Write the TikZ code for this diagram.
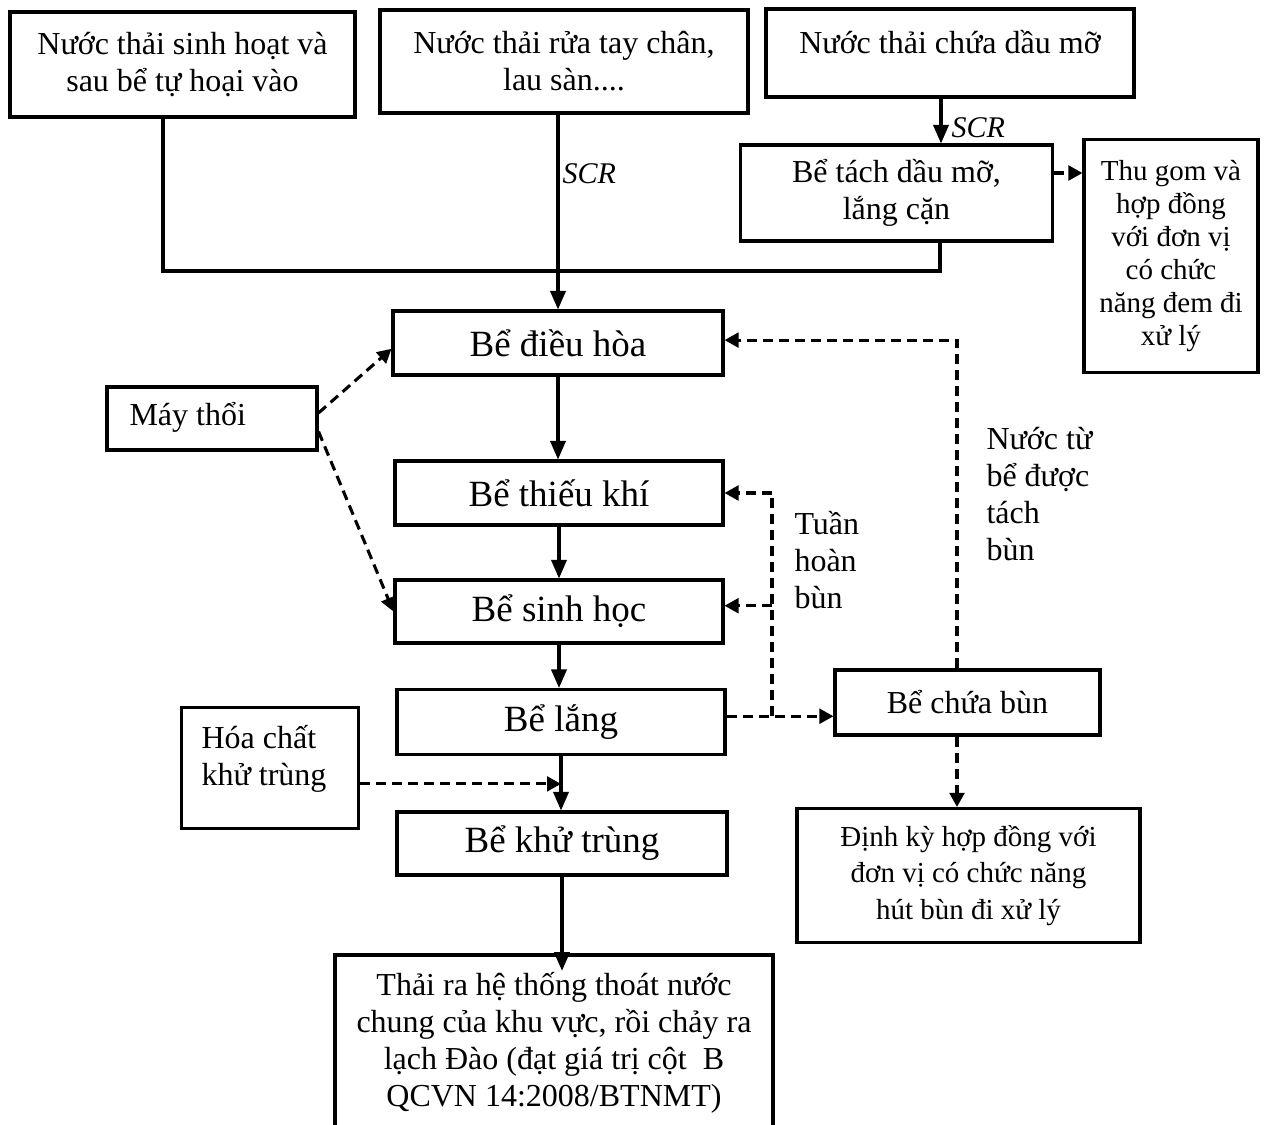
\documentclass[tikz,border=0pt]{standalone}
\usepackage{fontspec}
\setmainfont{Liberation Serif}
\usetikzlibrary{arrows.meta}

\tikzset{every picture/.style={line width=2.3pt}}
\tikzset{
	tank/.style 2 args={draw, rectangle, align=center, inner sep=0pt, minimum width=#1*0.75pt, minimum height=#2*0.75pt},
	fbig/.style={font=\fontsize{27.75}{33}\selectfont},
	fmid/.style={font=\fontsize{24}{27.75}\selectfont},
	fsmall/.style={font=\fontsize{21.75}{#1}\selectfont},
	fsmall/.default=24.75,
	note/.style={fmid, align=left, inner sep=0pt},
	scr/.style={font=\fontsize{22.5}{26}\selectfont\itshape, inner sep=0pt},
	pipe/.style={-{Triangle[length=14pt,width=11.5pt]}},
	dashline/.style={dash pattern=on 7.5pt off 4.5pt},
	dashpipe/.style={dashline, -{Triangle[length=10.5pt,width=11pt]}},
}

\begin{document}
\begin{tikzpicture}[x=0.75pt,y=0.75pt,yscale=-1,xscale=1]
	\useasboundingbox (0,0) rectangle (1272,1125);

	%Shape: Rectangle (inflows)
	\node[tank={345}{105}, fmid] (domestic) at (182.5,64.5) {Nước thải sinh hoạt và\\sau bể tự hoại vào};
	\node[tank={368}{103}, fmid] (handwash) at (564,61.5) {Nước thải rửa tay chân,\\lau sàn....};
	\node[tank={368}{88}] (greasy) at (950,53) {};
	\node[fmid, inner sep=0pt, anchor=base] (greasylbl) at (950,53) {Nước thải chứa dầu mỡ};
	\node[tank={312}{96}, fmid] (greasetrap) at (896.5,193) {Bể tách dầu mỡ,\\lắng cặn};
	\node[tank={174}{233}, fsmall=24.75] (collector) at (1171,256) {Thu gom và\\hợp đồng\\với đơn vị\\có chức\\năng đem đi\\xử lý};

	%Shape: Rectangle (treatment line)
	\node[tank={330}{64}, fbig] (equal) at (558,343) {Bể điều hòa};
	\node[tank={328}{64}, fbig] (anoxic) at (559,493) {Bể thiếu khí};
	\node[tank={328}{63}, fbig] (bio) at (559,611.5) {Bể sinh học};
	\node[tank={328}{65}, fbig] (settler) at (561,722) {Bể lắng};
	\node[tank={330}{63}, fbig] (disinf) at (562,843.5) {Bể khử trùng};
	\node[tank={438}{175}, fmid] (outlet) at (554,1042.5) {Thải ra hệ thống thoát nước\\chung của khu vực, rồi chảy ra\\lạch Đào (đạt giá trị cột\ \ B\\QCVN 14:2008/BTNMT)};

	%Shape: Rectangle (side units)
	\node[tank={210}{63}] (blower) at (212,418.5) {};
	\node[fmid, inner sep=0pt, anchor=base west] (blowerlbl) at (128,425) {Máy thổi};
	\node[tank={177}{121}] (chem) at (270,768) {};
	\node[note, anchor=west] (chemlbl) at (200,759) {Hóa chất\\khử trùng};
	\node[tank={265}{65}, fmid] (sludge) at (967.5,702.5) {Bể chứa bùn};
	\node[tank={343}{134}, fsmall=27.4] (contract) at (968.5,875.5) {Định kỳ hợp đồng với\\đơn vị có chức năng\\hút bùn đi xử lý};

	%Text
	\node[note, anchor=west] (recnote) at (793,560) {Tuần\\hoàn\\bùn};
	\node[note, anchor=west] (retnote) at (985,494) {Nước từ\\bể được\\tách\\bùn};
	\node[scr, anchor=base west] (scrwash) at (561,183) {SCR};
	\node[scr, anchor=base west] (scrgrease) at (950,137) {SCR};

	%Straight Lines
	\coordinate (mix) at (163,271);
	\coordinate (oiljoin) at (940,271);
	\coordinate (oilin) at (941,0);
	\coordinate (skim) at (0,173);
	\coordinate (rec) at (772,0);
	\coordinate (ret) at (957,0);

	\draw (mix |- domestic.south) -- (mix) -- (oiljoin) -- (oiljoin |- greasetrap.south);
	\draw[pipe] (handwash.south -| equal.north) -- (equal.north);
	\draw[pipe] (oilin |- greasy.south) -- (oilin |- greasetrap.north);
	\draw[dashpipe] (skim -| greasetrap.east) -- (skim -| collector.west);

	\draw[pipe] (equal.south) -- (equal.south |- anoxic.north);
	\draw[pipe] (anoxic.south) -- (anoxic.south |- bio.north);
	\draw[pipe] (bio.south) -- (bio.south |- settler.north);
	\draw[pipe] (settler.south) -- (settler.south |- disinf.north);
	\draw[pipe, shorten >=-13pt] (disinf.south) -- (disinf.south |- outlet.north);

	\draw[dashpipe] (blower.3) -- (equal.182);
	\draw[dashpipe] (blower.-7) -- (bio.west);
	\draw[dashpipe] (chem.-10) -- (chem.-10 -| settler.south);

	\draw[dashpipe] (settler.2) -- (settler.2 -| sludge.west);
	\draw[dashline] (rec |- settler.2) -- (rec |- anoxic.east);
	\draw[dashpipe] (rec |- anoxic.east) -- (anoxic.east);
	\draw[dashpipe] (rec |- bio.2) -- (bio.2);
	\draw[dashpipe] (ret |- sludge.north) -- (ret |- equal.1) -- (equal.1);
	\draw[dashpipe] (ret |- sludge.south) -- (ret |- contract.north);

\end{tikzpicture}
\end{document}
